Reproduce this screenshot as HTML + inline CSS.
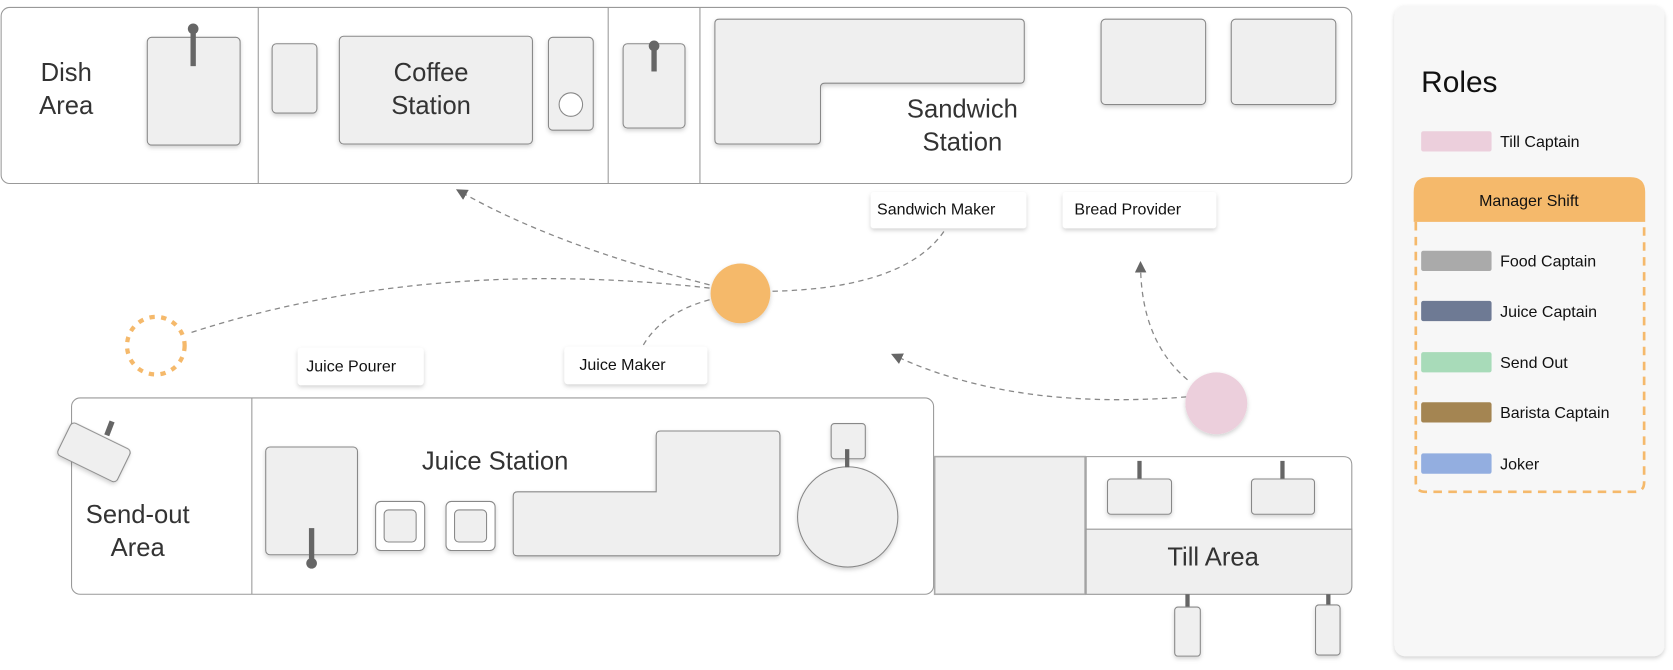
<!DOCTYPE html>
<html><head><meta charset="utf-8"><style>
html,body{margin:0;padding:0;background:#fff;}
svg{display:block;}
text{font-family:"Liberation Sans",sans-serif;fill:#333;}
</style></head><body>
<svg width="1673" height="670" viewBox="0 0 1568 628" xmlns="http://www.w3.org/2000/svg">
<defs>
<filter id="sh" x="-20%" y="-20%" width="140%" height="150%"><feDropShadow dx="0" dy="2" stdDeviation="2" flood-color="#000" flood-opacity="0.18"/></filter>
<marker id="ar" viewBox="0 0 10 10" refX="5" refY="5" markerWidth="9" markerHeight="9" orient="auto-start-reverse"><path d="M0,0 L10,5 L0,10 z" fill="#666"/></marker>
</defs>
<g fill="#efefef" stroke="#888" stroke-width="1">
<rect x="1" y="7" width="1266" height="165" rx="8" fill="#fff" stroke="#999"/>
<line x1="242" y1="7" x2="242" y2="172" stroke="#999"/>
<line x1="570" y1="7" x2="570" y2="172" stroke="#999"/>
<line x1="656" y1="7" x2="656" y2="172" stroke="#999"/>
<rect x="138" y="35" width="87" height="101" rx="4" filter="url(#sh)"/>
<rect x="255" y="41" width="42" height="65" rx="4" filter="url(#sh)"/>
<rect x="318" y="34" width="181" height="101" rx="4" filter="url(#sh)"/>
<rect x="514" y="35" width="42" height="87" rx="4" filter="url(#sh)"/>
<circle cx="535" cy="98" r="11" fill="#fff"/>
<rect x="584" y="41" width="58" height="79" rx="4" filter="url(#sh)"/>
<path d="M674,18 H956 Q960,18 960,22 V74 Q960,78 956,78 H773 Q769,78 769,82 V131 Q769,135 765,135 H674 Q670,135 670,131 V22 Q670,18 674,18 Z" filter="url(#sh)"/>
<rect x="1032" y="18" width="98" height="80" rx="4" filter="url(#sh)"/>
<rect x="1154" y="18" width="98" height="80" rx="4" filter="url(#sh)"/>
</g>
<g stroke="#666" stroke-width="5">
<line x1="181" y1="28" x2="181" y2="62"/><line x1="613" y1="43" x2="613" y2="67"/>
</g>
<circle cx="181" cy="27" r="5" fill="#666"/><circle cx="613" cy="43" r="5" fill="#666"/>
<g font-size="24" text-anchor="middle">
<text x="62" y="76">Dish</text><text x="62" y="107">Area</text>
<text x="404" y="76">Coffee</text><text x="404" y="107">Station</text>
<text x="902" y="110">Sandwich</text><text x="902" y="141">Station</text>
</g>
<g fill="none" stroke="#888" stroke-width="1.2" stroke-dasharray="5,4">
<path d="M665,267 Q520,230 432,180" marker-end="url(#ar)"/>
<path d="M665,270 Q400,240 178,312"/>
<path d="M724,273 Q850,270 886,215"/>
<path d="M665,281 Q620,293 602,325"/>
<path d="M1112,372 Q950,385 840,334" marker-end="url(#ar)"/>
<path d="M1113,356 Q1070,320 1069,250" marker-end="url(#ar)"/>
</g>
<circle cx="694" cy="275" r="28" fill="#f5b96b" filter="url(#sh)"/>
<circle cx="146" cy="324" r="27" fill="none" stroke="#f5b96b" stroke-width="4" stroke-dasharray="5,6"/>
<circle cx="1140" cy="378" r="29" fill="#eccfdc" filter="url(#sh)"/>
<g fill="#fff" filter="url(#sh)">
<rect x="816" y="180" width="146" height="34" rx="3"/>
<rect x="996" y="180" width="144" height="34" rx="3"/>
<rect x="279" y="326" width="118" height="35" rx="3"/>
<rect x="529" y="325" width="134" height="35" rx="3"/>
</g>
<g font-size="15">
<text x="822" y="201" style="fill:#111">Sandwich Maker</text>
<text x="1007" y="201" style="fill:#111">Bread Provider</text>
<text x="287" y="348" style="fill:#111">Juice Pourer</text>
<text x="543" y="347" style="fill:#111">Juice Maker</text>
</g>
<g fill="#efefef" stroke="#888" stroke-width="1">
<rect x="67" y="373" width="808" height="184" rx="8" fill="#fff" stroke="#999"/>
<line x1="236" y1="373" x2="236" y2="557" stroke="#999"/>
<rect x="249" y="419" width="86" height="101" rx="4" filter="url(#sh)"/>
<rect x="352" y="470" width="46" height="46" rx="5" fill="#fff" filter="url(#sh)"/>
<rect x="360" y="478" width="30" height="30" rx="4"/>
<rect x="418" y="470" width="46" height="46" rx="5" fill="#fff" filter="url(#sh)"/>
<rect x="426" y="478" width="30" height="30" rx="4"/>
<path d="M485,461 H615 V408 Q615,404 619,404 H727 Q731,404 731,408 V517 Q731,521 727,521 H485 Q481,521 481,517 V465 Q481,461 485,461 Z" filter="url(#sh)"/>
<rect x="779" y="397" width="32" height="33" rx="3" filter="url(#sh)"/>
<circle cx="794.5" cy="484.5" r="47" filter="url(#sh)"/>
<rect x="-31" y="-17" width="62" height="34" rx="4" transform="translate(88,424) rotate(26)" filter="url(#sh)"/>
</g>
<g stroke="#666" stroke-width="5">
<line x1="292" y1="495" x2="292" y2="527"/><line x1="794" y1="421" x2="794" y2="438" stroke-width="4"/>
<line x1="100" y1="408" x2="105" y2="395"/>
</g>
<circle cx="292" cy="528" r="5" fill="#666"/>
<g font-size="24" text-anchor="middle">
<text x="464" y="440">Juice Station</text>
<text x="129" y="490">Send-out</text><text x="129" y="521">Area</text>
</g>
<rect x="876" y="428" width="141" height="129" fill="#efefef" stroke="#aaa" stroke-width="1.5"/>
<path d="M1018,428 H1259 Q1267,428 1267,436 V549 Q1267,557 1259,557 H1018 Z" fill="#fff" stroke="#999"/>
<path d="M1018,496 H1267 V549 Q1267,557 1259,557 H1018 Z" fill="#efefef" stroke="#999"/>
<g stroke="#666" stroke-width="4">
<line x1="1068" y1="432" x2="1068" y2="450"/><line x1="1202" y1="432" x2="1202" y2="450"/>
<line x1="1113" y1="557" x2="1113" y2="570"/><line x1="1245" y1="557" x2="1245" y2="568"/>
</g>
<g fill="#efefef" stroke="#888">
<rect x="1038" y="449" width="60" height="33" rx="3" filter="url(#sh)"/>
<rect x="1173" y="449" width="59" height="33" rx="3" filter="url(#sh)"/>
<rect x="1101" y="569" width="24" height="46" rx="3" filter="url(#sh)"/>
<rect x="1233" y="567" width="23" height="47" rx="3" filter="url(#sh)"/>
</g>
<text x="1137" y="530" font-size="24" text-anchor="middle">Till Area</text>
<rect x="1307" y="5" width="253" height="610" rx="10" fill="#f7f7f7" filter="url(#sh)"/>
<text x="1332" y="86" font-size="28" style="fill:#111">Roles</text>
<rect x="1332" y="123" width="66" height="19" rx="2" fill="#eccfdc"/>
<text x="1406" y="138" font-size="15" style="fill:#111">Till Captain</text>
<path d="M1327,208 V452 Q1327,461 1336,461 H1532 Q1541,461 1541,452 V208" fill="none" stroke="#f5b96b" stroke-width="2.5" stroke-dasharray="8,6"/>
<path d="M1325,208 V180 Q1325,166 1339,166 H1528 Q1542,166 1542,180 V208 Z" fill="#f5b96b"/>
<text x="1433" y="193" font-size="15" text-anchor="middle" style="fill:#111">Manager Shift</text>
<g font-size="15">
<rect x="1332" y="235" width="66" height="19" rx="2" fill="#aaa"/><text x="1406" y="250" style="fill:#111">Food Captain</text>
<rect x="1332" y="282" width="66" height="19" rx="2" fill="#6e7a94"/><text x="1406" y="297" style="fill:#111">Juice Captain</text>
<rect x="1332" y="330" width="66" height="19" rx="2" fill="#a8dbb9"/><text x="1406" y="345" style="fill:#111">Send Out</text>
<rect x="1332" y="377" width="66" height="19" rx="2" fill="#a48552"/><text x="1406" y="392" style="fill:#111">Barista Captain</text>
<rect x="1332" y="425" width="66" height="19" rx="2" fill="#93aee0"/><text x="1406" y="440" style="fill:#111">Joker</text>
</g>
</svg>
</body></html>
